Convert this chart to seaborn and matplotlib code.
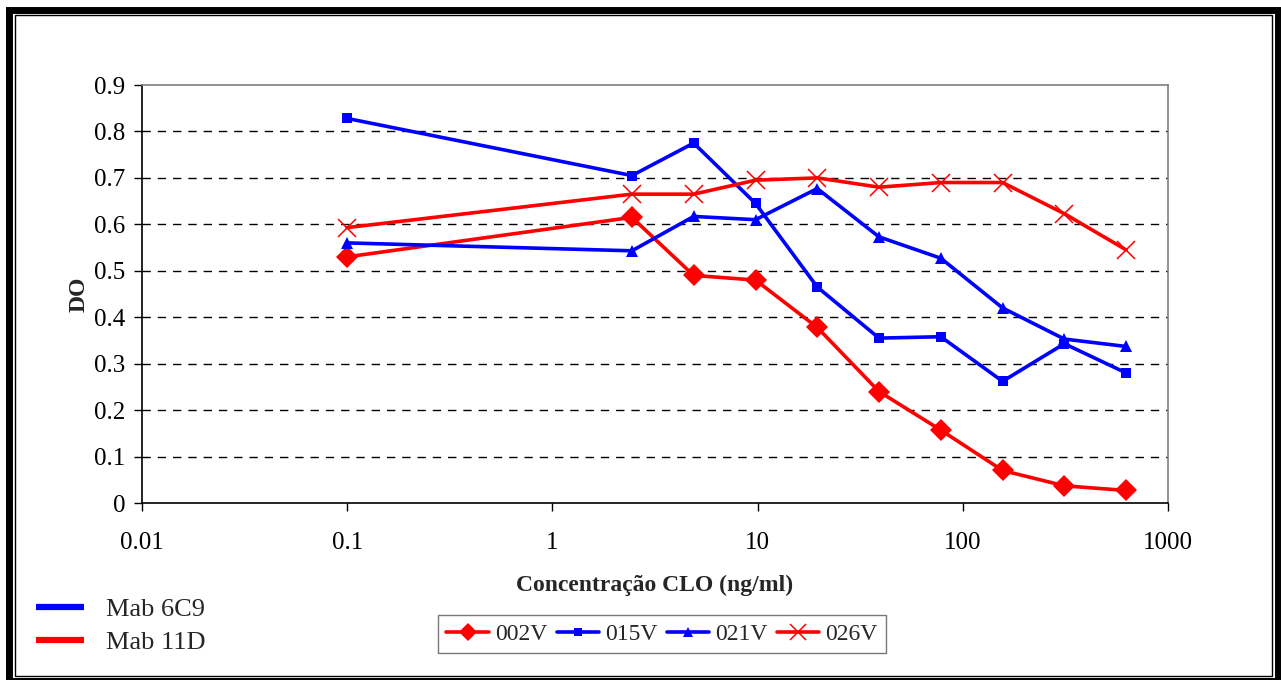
import matplotlib
matplotlib.use("Agg")
import matplotlib.pyplot as plt
from matplotlib.lines import Line2D
from matplotlib.patches import Rectangle
from matplotlib.ticker import FixedLocator, FuncFormatter, NullLocator
import seaborn as sns
import pandas as pd

# Concentration series (ng/ml): two-fold dilutions plus a 0.1 point
conc = [0.1, 2.44, 4.88, 9.77, 19.53, 39.06, 78.13, 156.25, 312.5, 625]

do_002v = [0.530, 0.615, 0.490, 0.480, 0.378, 0.240, 0.157, 0.070, 0.037, 0.027]
do_015v = [0.828, 0.705, 0.775, 0.645, 0.465, 0.355, 0.358, 0.262, 0.343, 0.280]
do_021v = [0.560, 0.543, 0.617, 0.610, 0.677, 0.573, 0.527, 0.420, 0.353, 0.337]
do_026v = [0.593, 0.665, 0.665, 0.695, 0.700, 0.680, 0.690, 0.690, 0.623, 0.545]

series_names = ["002V", "015V", "021V", "026V"]
series_values = [do_002v, do_015v, do_021v, do_026v]
antibody_names = ["Mab 6C9", "Mab 11D"]

x_ticks = [0.01, 0.1, 1, 10, 100, 1000]
y_ticks = [0, 0.1, 0.2, 0.3, 0.4, 0.5, 0.6, 0.7, 0.8, 0.9]

RED = "#ff0000"
BLUE = "#0000ff"

styles = {
    "002V": dict(color=RED, marker="D", markersize=11, markeredgewidth=0),
    "015V": dict(color=BLUE, marker="s", markersize=7.5, markeredgewidth=0),
    "021V": dict(color=BLUE, marker="^", markersize=8.5, markeredgewidth=0),
    "026V": dict(color=RED, marker="x", markersize=13, markeredgewidth=1.1),
}

sns.set_theme(style="white")
plt.rcParams["font.family"] = ["Liberation Serif", "DejaVu Serif"]

df = pd.DataFrame(
    [(c, v, name) for name, vals in zip(series_names, series_values)
     for c, v in zip(conc, vals)],
    columns=["conc", "do", "serie"],
)

W, H = 1281, 680
fig = plt.figure(figsize=(W / 100, H / 100), dpi=100)
ax = fig.add_axes([142 / W, 1 - 503 / H, (1168 - 142) / W, (503 - 85) / H])

handles = []
for name in series_names:
    st = styles[name]
    sub = df[df["serie"] == name]
    sns.lineplot(data=sub, x="conc", y="do", ax=ax, color=st["color"],
                 marker=st["marker"], markersize=st["markersize"],
                 markeredgewidth=st["markeredgewidth"],
                 markeredgecolor=st["color"], linewidth=2.6,
                 legend=False, zorder=3)
    handles.append(Line2D([], [], color=st["color"], marker=st["marker"],
                          markersize=st["markersize"] * 0.85,
                          markeredgewidth=st["markeredgewidth"],
                          markeredgecolor=st["color"], linewidth=2.6))

ax.set_xscale("log")
ax.set_xlim(0.01, 1000)
ax.set_ylim(0, 0.9)
ax.xaxis.set_major_locator(FixedLocator(x_ticks))
ax.xaxis.set_minor_locator(NullLocator())
ax.xaxis.set_major_formatter(FuncFormatter(lambda v, p: f"{v:g}"))
ax.yaxis.set_major_locator(FixedLocator(y_ticks))
ax.yaxis.set_major_formatter(FuncFormatter(lambda v, p: f"{v:g}"))

ax.tick_params(axis="both", which="major", direction="out", length=6,
               width=1, color="black", labelsize=18, labelcolor="black",
               bottom=True, left=True)
ax.tick_params(axis="x", pad=15)
ax.tick_params(axis="y", pad=6)

# dashed horizontal gridlines
for yv in y_ticks[1:-1]:
    ax.axhline(yv, color="black", linestyle=(0, (6, 5)), linewidth=1, zorder=1)

for side in ["left", "bottom"]:
    ax.spines[side].set_color("black")
    ax.spines[side].set_linewidth(1.2)
for side in ["top", "right"]:
    ax.spines[side].set_color("#808080")
    ax.spines[side].set_linewidth(1.2)

ax.set_xlabel("Concentração CLO (ng/ml)", fontsize=17, fontweight="bold", labelpad=15)
ax.set_ylabel("DO", fontsize=17, fontweight="bold", labelpad=3)

# series legend below the axis
leg = fig.legend(handles, series_names, loc="center", ncol=4,
                 bbox_to_anchor=(662 / W, 1 - 634 / H),
                 fontsize=17, frameon=True, fancybox=False, shadow=False,
                 handlelength=1.8, handletextpad=0.25, columnspacing=0.4,
                 borderpad=0.35, borderaxespad=0)
leg.get_frame().set_edgecolor("#555555")
leg.get_frame().set_linewidth(1.0)

# antibody colour key
ab_handles = [Line2D([], [], color=BLUE, linewidth=4.5, solid_capstyle="butt"),
              Line2D([], [], color=RED, linewidth=4.5, solid_capstyle="butt")]
fig.legend(ab_handles, antibody_names, loc="upper left",
           bbox_to_anchor=(36 / W, 1 - 598 / H), fontsize=19,
           frameon=False, handlelength=1.8, handletextpad=0.85,
           labelspacing=0.36, borderaxespad=0, borderpad=0)

# double frame around the whole figure
fig.patches.append(Rectangle((8.5 / W, -0.5 / H), (1278 - 8.5) / W, (670.5 + 0.5) / H,
                             transform=fig.transFigure, fill=False,
                             edgecolor="black", linewidth=5.0))
fig.patches.append(Rectangle((15 / W, 4 / H), (1272 - 15) / W, (665 - 4) / H,
                             transform=fig.transFigure, fill=False,
                             edgecolor="black", linewidth=1.0))

fig.savefig("out.png", dpi=100, facecolor="white")
